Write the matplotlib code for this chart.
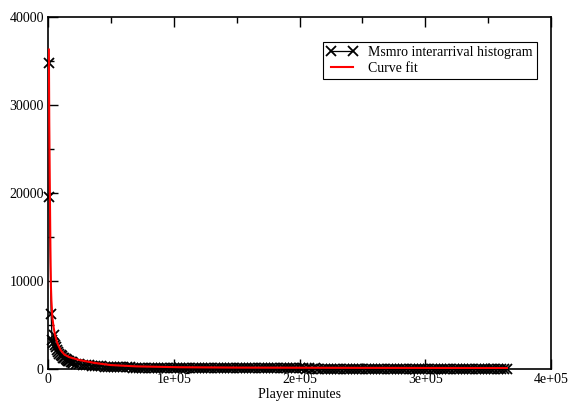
import numpy as np
import matplotlib
matplotlib.use("Agg")
import matplotlib.pyplot as plt
from matplotlib.ticker import MultipleLocator, FuncFormatter

plt.rcParams["font.family"] = ["Liberation Serif", "DejaVu Serif"]

# Histogram of interarrival times (player minutes -> count)
head_minutes = [700, 1000, 2500, 3200, 4000, 4700, 5500, 6000, 7000, 8000,
                9000, 10000, 11000, 12000, 13000, 14000, 15000, 16000,
                17000, 18000, 19000, 20000]
head_counts = [34800, 19500, 6300, 3300, 2900, 3900, 2700, 2500, 2200, 1950,
               1750, 1600, 1450, 1300, 1200, 1100, 1000, 950,
               880, 820, 770, 720]

tail_minutes = np.arange(22500, 365001, 2500)
tail_counts = [
    620, 560, 500, 450, 410, 380, 350, 320, 300, 280, 260, 240,
    225, 215, 200, 190, 180, 172, 165, 158, 150, 145,
    138, 132, 128, 122, 118, 114, 110, 106, 103, 100,
    97, 92, 95, 88, 90, 85, 87, 82, 84, 80,
    81, 78, 80, 76, 77, 74, 75, 72, 74, 70,
    71, 69, 72, 67, 68, 66, 69, 64, 66, 63,
    65, 62, 63, 60, 62, 59, 61, 58, 60, 57,
    58, 56, 57, 55, 57, 54, 55, 53, 55, 52,
    53, 51, 53, 50, 52, 49, 51, 48, 50, 47,
    49, 47, 48, 46, 48, 45, 47, 44, 46, 44,
    45, 43, 45, 42, 44, 42, 43, 41, 43, 40,
    42, 40, 41, 39, 41, 38, 40, 38, 39, 37,
    38, 36, 38, 35, 37, 35, 36, 34, 36, 33,
    35, 33, 34, 32, 33, 31,
]

hist_minutes = np.concatenate([head_minutes, tail_minutes])
hist_counts = np.concatenate([head_counts, tail_counts])

# Fitted curve sampled at a set of minutes
fit_minutes = [700, 1000, 1400, 1900, 2300, 2700, 3500, 4500, 5600, 7500,
               10000, 13000, 16700, 25400, 36600, 49600, 70000, 105000,
               150000, 250000, 365000]
fit_counts = [36300, 28000, 21500, 14000, 9500, 7800, 5800, 4700, 3860, 2900,
              2150, 1650, 1360, 1000, 700, 450, 300, 200,
              160, 130, 110]

fig = plt.figure(figsize=(5.69, 4.03), dpi=100)
ax = fig.add_axes([48 / 569, 1 - 369 / 403, (551 - 48) / 569, (369 - 17) / 403])

ax.plot(hist_minutes, hist_counts, color="black", lw=0.9, marker="x",
        markersize=6.5, markeredgewidth=1.3, label="Msmro interarrival histogram",
        zorder=2, clip_on=False)
ax.plot(fit_minutes, fit_counts, color="red", lw=1.5, label="Curve fit",
        zorder=3)

ax.set_xlim(0, 400000)
ax.set_ylim(0, 40000)

ax.xaxis.set_major_locator(MultipleLocator(100000))
ax.xaxis.set_minor_locator(MultipleLocator(50000))
ax.yaxis.set_major_locator(MultipleLocator(10000))
ax.yaxis.set_minor_locator(MultipleLocator(5000))

def sci_label(v, pos):
    if v == 0:
        return "0"
    m, e = f"{v:.0e}".split("e")
    return f"{m}e+{int(e):02d}"

ax.xaxis.set_major_formatter(FuncFormatter(sci_label))
ax.yaxis.set_major_formatter(FuncFormatter(lambda v, p: f"{int(v)}"))

ax.tick_params(which="both", direction="in", top=True, right=False,
               labelsize=10, width=1.0, pad=3)
ax.tick_params(which="major", length=7)
ax.tick_params(which="minor", length=4)
for s in ax.spines.values():
    s.set_linewidth(1.2)

ax.set_xlabel("Player minutes", fontsize=10, labelpad=1)

leg = ax.legend(loc="upper right", bbox_to_anchor=(489 / 503, 1 - 25 / 352),
                frameon=True, fancybox=False, framealpha=1, edgecolor="black",
                fontsize=10, numpoints=2, handlelength=2.2,
                borderpad=0.3, labelspacing=0.2, handletextpad=0.8,
                borderaxespad=0)
leg.get_frame().set_linewidth(0.8)

fig.savefig("out.png", dpi=100)
